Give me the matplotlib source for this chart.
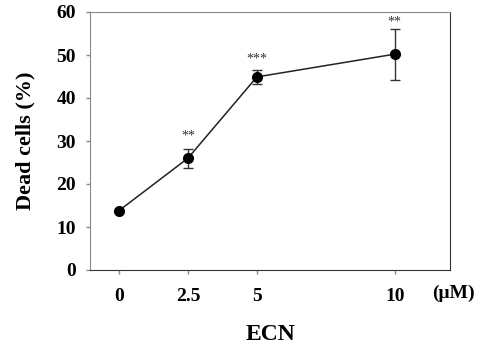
import matplotlib.pyplot as plt

# ECN dose response: percentage of dead cells
conc = [0, 2.5, 5, 10]
dead = [13.8, 26.0, 44.9, 50.2]
err = [0.0, 2.2, 1.6, 5.9]
stars = ['', '**', '***', '**']
star_y = [0, 31.2, 49.0, 57.7]
yticks = [0, 10, 20, 30, 40, 50, 60]

plt.rcParams['font.family'] = 'Liberation Serif'
plt.rcParams['font.weight'] = 'bold'

fig = plt.figure(figsize=(4.81, 3.49), dpi=100)
ax = fig.add_axes([90/481, 1 - 270/349, 360/481, 258/349])

ax.errorbar(conc, dead, yerr=err, fmt='o-', color='black', ecolor='#333333',
            elinewidth=1, capsize=3.5, capthick=1, lw=1.1, ms=7)
ax.lines[0].set_color('#222222')
ax.lines[0].set_markerfacecolor('black')
ax.lines[0].set_markeredgecolor('black')

for x, y, s in zip(conc, star_y, stars):
    if s:
        ax.text(x, y, s, ha='center', va='center', fontsize=10,
                fontweight='normal', color='#333333')

ax.set_xlim(-1.05, 12.0)
ax.set_ylim(0, 60)
ax.set_xticks(conc)
ax.set_xticklabels(['0', '2.5', '5', '10'])
ax.set_yticks(yticks)
ax.tick_params(axis='both', labelsize=14, length=3, width=1, color='#888888')
ax.tick_params(axis='x', pad=10)
ax.tick_params(axis='y', pad=7)

for side in ['top', 'left']:
    ax.spines[side].set_color('#888888')
for side in ['bottom', 'right']:
    ax.spines[side].set_color('#333333')

ax.text(1.01, -0.09, '(\u03bcM)', transform=ax.transAxes, fontsize=14,
        fontweight='bold', ha='center', va='center')
ax.set_xlabel('ECN', fontsize=17, fontweight='bold', labelpad=14)
ax.set_ylabel('Dead cells (%)', fontsize=16, fontweight='bold', labelpad=15)

fig.savefig('out.png', dpi=100)
